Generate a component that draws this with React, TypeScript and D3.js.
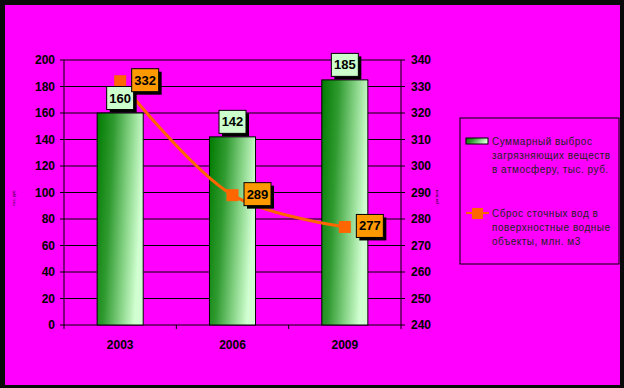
import * as d3 from 'd3';

const W = 624;
const H = 388;

const years = ['2003', '2006', '2009'];
const emissions = [160, 142, 185];
const wastewater = [332, 289, 277];
const leftTicks = [0, 20, 40, 60, 80, 100, 120, 140, 160, 180, 200];
const rightTicks = [240, 250, 260, 270, 280, 290, 300, 310, 320, 330, 340];
const legendBar = ['Суммарный выброс', 'загрязняющих веществ', 'в атмосферу, тыс. руб.'];
const legendLine = ['Сброс сточных вод  в', 'поверхностные водные', 'объекты, млн. м3'];

const PLOT = { left: 64, right: 401, top: 60, bottom: 325 };
const FONT = '"Liberation Sans", Arial, sans-serif';

function LabelBox({ cx, cy, text, fill }: { cx: number; cy: number; text: string; fill: string }) {
  const w = 27;
  const h = 23;
  return (
    <g>
      <rect x={cx - w / 2 + 3} y={cy - h / 2 + 3} width={w} height={h} fill="#000" />
      <rect x={cx - w / 2} y={cy - h / 2} width={w} height={h} fill={fill} stroke="#000" strokeWidth={1} />
      <text x={cx} y={cy + 4.5} textAnchor="middle" fontFamily={FONT} fontWeight="bold" fontSize={13} fill="#000">
        {text}
      </text>
    </g>
  );
}

export default function App() {
  const x = d3.scaleBand<string>().domain(years).range([PLOT.left, PLOT.right]).padding(0);
  const yL = d3.scaleLinear().domain([0, 200]).range([PLOT.bottom, PLOT.top]);
  const yR = d3.scaleLinear().domain([240, 340]).range([PLOT.bottom, PLOT.top]);
  const bw = x.bandwidth() * 0.41;
  const cx = (d: string) => (x(d) as number) + x.bandwidth() / 2;

  const line = d3
    .line<number>()
    .x((_, i) => cx(years[i]))
    .y((v) => yR(v))
    .curve(d3.curveCatmullRom.alpha(0.5));

  const boundaries = [...years.map((d) => x(d) as number), PLOT.right];

  return (
    <svg width={W} height={H} style={{ position: 'absolute', left: 0, top: 0 }}>
      <defs>
        <linearGradient id="barGrad" x1="0" y1="0" x2="1" y2="0.25">
          <stop offset="0" stopColor="#007a00" />
          <stop offset="0.35" stopColor="#2f9a2f" />
          <stop offset="0.7" stopColor="#86d386" />
          <stop offset="1" stopColor="#d2ffd2" />
        </linearGradient>
      </defs>
      <rect x={0} y={0} width={W} height={H} fill="#0a0a0a" />
      <rect x={5} y={5} width={615} height={380} fill="#ff00ff" />

      {/* grid */}
      {leftTicks.map((t) => (
        <line key={t} x1={PLOT.left} x2={PLOT.right} y1={yL(t)} y2={yL(t)} stroke="#000" strokeWidth={1} />
      ))}

      {/* axes */}
      <line x1={PLOT.left} x2={PLOT.left} y1={PLOT.top} y2={PLOT.bottom} stroke="#000" />
      <line x1={PLOT.right} x2={PLOT.right} y1={PLOT.top} y2={PLOT.bottom} stroke="#000" />
      {leftTicks.map((t) => (
        <g key={'l' + t}>
          <line x1={PLOT.left - 4} x2={PLOT.left} y1={yL(t)} y2={yL(t)} stroke="#000" />
          <text x={55} y={yL(t) + 4} textAnchor="end" fontFamily={FONT} fontWeight="bold" fontSize={12} fill="#000">
            {t}
          </text>
        </g>
      ))}
      {rightTicks.map((t) => (
        <g key={'r' + t}>
          <line x1={PLOT.right} x2={PLOT.right + 4} y1={yR(t)} y2={yR(t)} stroke="#000" />
          <text x={411} y={yR(t) + 4} textAnchor="start" fontFamily={FONT} fontWeight="bold" fontSize={12} fill="#000">
            {t}
          </text>
        </g>
      ))}
      {boundaries.map((b, i) => (
        <line key={'b' + i} x1={b} x2={b} y1={PLOT.bottom} y2={PLOT.bottom + 4} stroke="#000" />
      ))}
      {years.map((d) => (
        <text key={'y' + d} x={cx(d)} y={349} textAnchor="middle" fontFamily={FONT} fontWeight="bold" fontSize={12} fill="#000">
          {d}
        </text>
      ))}

      {/* axis titles (tiny) */}
      <text transform="translate(15,198) rotate(-90)" textAnchor="middle" fontFamily={FONT} fontSize={4} fill="#000">
        тыс. руб.
      </text>
      <text transform="translate(436,197) rotate(90)" textAnchor="middle" fontFamily={FONT} fontSize={4} fill="#000">
        млн. м3
      </text>

      {/* bars */}
      {years.map((d, i) => (
        <rect
          key={'bar' + d}
          x={cx(d) - bw / 2}
          y={yL(emissions[i])}
          width={bw}
          height={PLOT.bottom - yL(emissions[i])}
          fill="url(#barGrad)"
          stroke="#000"
          strokeWidth={1}
        />
      ))}

      {/* line */}
      <path d={line(wastewater) || ''} fill="none" stroke="#ff6600" strokeWidth={3} />
      {wastewater.map((v, i) => (
        <rect key={'m' + i} x={cx(years[i]) - 6} y={yR(v) - 6} width={12} height={12} fill="#ff6600" />
      ))}

      {/* labels */}
      {years.map((d, i) => (
        <LabelBox key={'lb' + d} cx={cx(d)} cy={yL(emissions[i]) - 15} text={String(emissions[i])} fill="#ccffcc" />
      ))}
      {years.map((d, i) => (
        <LabelBox key={'ll' + d} cx={cx(d) + 25} cy={yR(wastewater[i]) - 1} text={String(wastewater[i])} fill="#ff9900" />
      ))}

      {/* legend */}
      <rect x={460} y={118} width={159} height={146} fill="none" stroke="#000" strokeWidth={1} />
      <rect x={466} y={138} width={22} height={6} fill="url(#barGrad)" stroke="#000" strokeWidth={1} />
      {legendBar.map((s, i) => (
        <text key={'lg1' + i} x={492} y={145 + i * 14} fontFamily={FONT} fontSize={10} letterSpacing={0.5} fill="#222">
          {s}
        </text>
      ))}
      <line x1={466} x2={489} y1={213} y2={213} stroke="#ff6600" strokeWidth={2} />
      <rect x={472} y={208} width={11} height={11} fill="#ff6600" />
      {legendLine.map((s, i) => (
        <text key={'lg2' + i} x={492} y={217 + i * 14} fontFamily={FONT} fontSize={10} letterSpacing={0.5} fill="#222">
          {s}
        </text>
      ))}
    </svg>
  );
}
